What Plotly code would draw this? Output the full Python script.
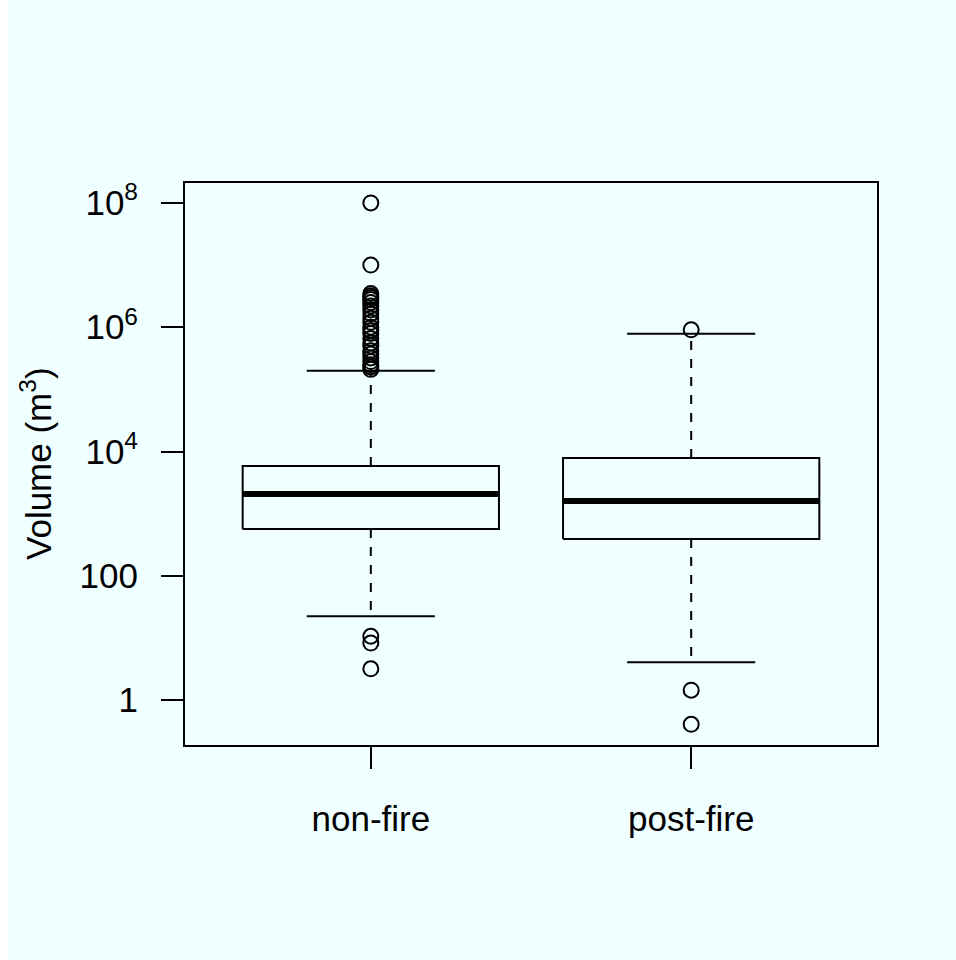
import plotly.graph_objects as go

categories = ["non-fire", "post-fire"]
positions = [1, 2]
q1 = [568, 392]
median = [2075, 1600]
q3 = [5860, 7890]
lower_whisker = [22.5, 4.1]
upper_whisker = [198600, 783000]
outliers = [
    [1.0e8, 1.0e7, 3.5e6, 3.2e6, 3.0e6, 2.8e6, 2.5e6, 2.2e6, 1.9e6, 1.65e6,
     1.4e6, 1.2e6, 1.0e6, 8.9e5, 7.9e5, 6.6e5, 5.6e5, 5.0e5, 4.2e5, 3.7e5,
     3.2e5, 2.8e5, 2.5e5, 2.3e5, 2.1e5, 10.7, 8.3, 3.2],
    [9.1e5, 1.45, 0.41],
]
y_tickvals = [1, 100, 1e4, 1e6, 1e8]
y_ticktext = ["1", "100", "10<sup>4</sup>", "10<sup>6</sup>", "10<sup>8</sup>"]

BOX_HALF = 0.4
CAP_HALF = 0.2
FONT = "Liberation Sans, Arial, sans-serif"
FS = 35

fig = go.Figure()

for i, pos in enumerate(positions):
    fig.add_trace(go.Scatter(
        x=[pos - BOX_HALF, pos + BOX_HALF, pos + BOX_HALF, pos - BOX_HALF, pos - BOX_HALF],
        y=[q1[i], q1[i], q3[i], q3[i], q1[i]],
        mode="lines", line=dict(color="black", width=2), hoverinfo="skip", showlegend=False))
    fig.add_trace(go.Scatter(
        x=[pos - BOX_HALF, pos + BOX_HALF], y=[median[i], median[i]],
        mode="lines", line=dict(color="black", width=6), hoverinfo="skip", showlegend=False))
    fig.add_trace(go.Scatter(
        x=[pos, pos, None, pos, pos],
        y=[q3[i], upper_whisker[i], None, q1[i], lower_whisker[i]],
        mode="lines", line=dict(color="black", width=2, dash="9px,9px"),
        hoverinfo="skip", showlegend=False))
    fig.add_trace(go.Scatter(
        x=[pos - CAP_HALF, pos + CAP_HALF, None, pos - CAP_HALF, pos + CAP_HALF],
        y=[upper_whisker[i], upper_whisker[i], None, lower_whisker[i], lower_whisker[i]],
        mode="lines", line=dict(color="black", width=2), hoverinfo="skip", showlegend=False))
    fig.add_trace(go.Scatter(
        x=[pos] * len(outliers[i]), y=outliers[i], mode="markers",
        marker=dict(symbol="circle-open", size=15, color="black", line=dict(width=2)),
        hoverinfo="skip", showlegend=False))

L, R, T, B = 185, 79, 183, 215
W, H = 956, 960
pw, ph = W - L - R, H - T - B

fig.add_shape(type="rect", xref="paper", yref="paper",
              x0=(8 - L) / pw, x1=(W - L) / pw,
              y0=-(B) / ph, y1=(H - T - 7) / ph + 0.0,
              fillcolor="#F0FFFF", line=dict(width=0), layer="below")

fig.add_annotation(text="Volume (m<sup>3</sup>)", xref="paper", yref="paper",
                   x=(36 - L) / pw, y=0.5, textangle=-90, showarrow=False,
                   font=dict(family=FONT, size=FS, color="black"),
                   xanchor="center", yanchor="middle")

fig.update_layout(
    width=W, height=H,
    margin=dict(l=L, r=R, t=T, b=B),
    paper_bgcolor="white", plot_bgcolor="#F0FFFF",
    font=dict(family=FONT, size=FS, color="black"),
    xaxis=dict(range=[0.42, 2.58], tickvals=positions, ticktext=categories,
               showline=True, mirror=True, linecolor="black", linewidth=2,
               ticks="outside", ticklen=22, tickwidth=2, tickcolor="black",
               showgrid=False, zeroline=False, ticklabelstandoff=20,
               tickfont=dict(family=FONT, size=FS, color="black")),
    yaxis=dict(type="log", range=[-0.72, 8.32], tickvals=y_tickvals, ticktext=y_ticktext,
               showline=True, mirror=True, linecolor="black", linewidth=2,
               ticks="outside", ticklen=22, tickwidth=2, tickcolor="black",
               showgrid=False, zeroline=False, ticklabelstandoff=16,
               tickfont=dict(family=FONT, size=FS, color="black")),
)

fig.write_html("out.html")
